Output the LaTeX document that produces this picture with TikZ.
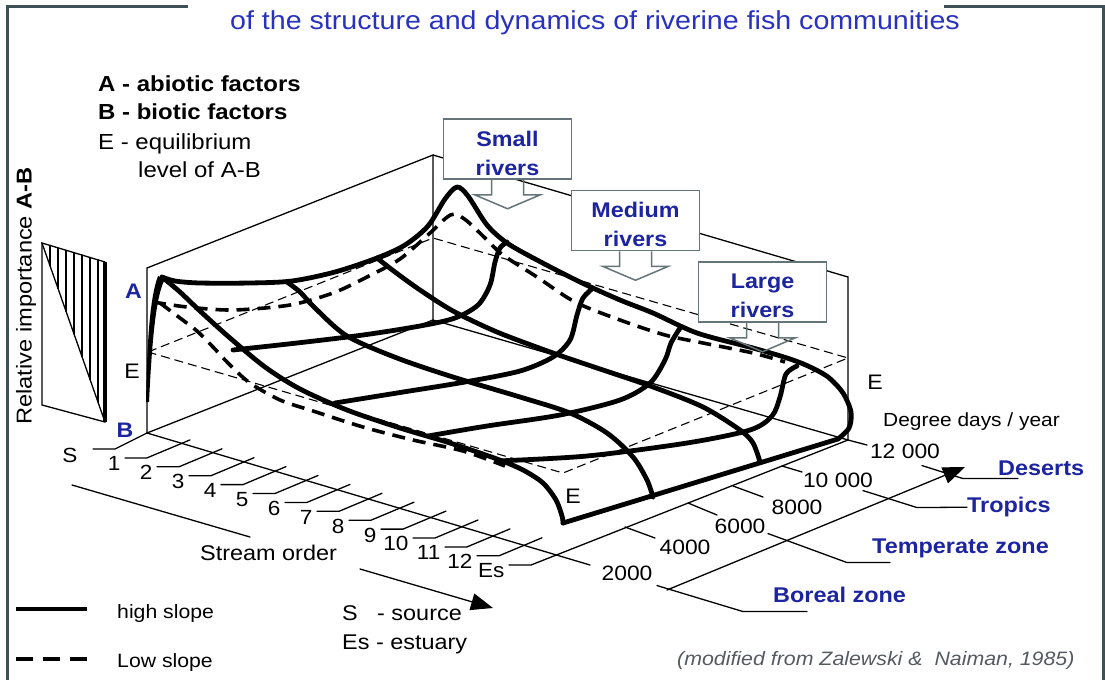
\documentclass[tikz,border=0pt]{standalone}
\usepackage{fontspec}
\setmainfont{Liberation Sans}[FakeStretch=1.1]
\usetikzlibrary{arrows.meta, positioning, calc}
\definecolor{riverblue}{RGB}{28,36,160}
\definecolor{titleblue}{RGB}{40,50,190}
\definecolor{framegray}{RGB}{62,80,86}
\definecolor{boxgray}{RGB}{100,116,120}
\definecolor{notegray}{RGB}{84,90,96}
\tikzset{
  thinln/.style={line width=1.3pt, line cap=round},
  highslope/.style={line width=4.8pt, line cap=round, line join=round},
  lowslope/.style={line width=3.6pt, dash pattern=on 13pt off 8pt},
  eplane/.style={line width=1.1pt, dash pattern=on 9pt off 5pt},
  lbl/.style={inner sep=0pt, font=\fontsize{#1}{#1}\selectfont},
  lbl/.default=20.5,
  keytxt/.style={inner sep=0pt, anchor=base west, font=\fontsize{21.8}{26}\selectfont},
  zonelbl/.style={inner sep=0pt, anchor=base west, text=riverblue, font=\fontsize{21.3}{24}\selectfont\bfseries},
  rivbox/.style={draw=boxgray, line width=1.5pt, fill=white, minimum width=128pt,
                 minimum height=60pt, inner sep=0pt},
  rivtext/.style={align=center, text=riverblue, inner sep=0pt, font=\fontsize{21.2}{29}\selectfont\bfseries},
  rivarrow/.style={draw=boxgray, line width=1.5pt, line join=miter},
  bigarrow/.style={thinln, -{Triangle[length=22pt,width=17pt]}}
}
\begin{document}
\begin{tikzpicture}[x=1pt, y=-1pt]
  \useasboundingbox (0,0) rectangle (1105,680);

  % Frame and title
  \draw[framegray, line width=3pt] (188,6) -- (7,6) -- (7,680);
  \draw[framegray, line width=3pt] (944,6) -- (1103,6) -- (1103,680);
  \node[anchor=base west, inner sep=0pt, text=titleblue, font=\fontsize{26}{30}\selectfont] (title)
    at (230,29) {of the structure and dynamics of riverine fish communities};

  % Key
  \node[keytxt] (keyA) at (98,91) {\textbf{A - abiotic factors}};
  \node[keytxt] (keyB) at (98,119) {\textbf{B - biotic factors}};
  \node[keytxt] (keyE) at (98,149) {E - equilibrium};
  \node[keytxt] (keyE2) at (138,177) {level of A-B};
  \node[rotate=90, inner sep=0pt, font=\fontsize{21.5}{24}\selectfont] (yaxis)
    at (26,296) {Relative importance \textbf{A-B}};

  % A-B share box
  \draw[thinln] (105,262) -- (42,243) -- (42,405) -- (105,422);
  \draw[thinln] (42,243) -- (105,422);
  \draw[line width=3.5pt] (105,262) -- (105,422);
  \foreach \x in {50,58,...,98}
    \draw[thinln] (\x,{243+(\x-42)*19/63}) -- (\x,{243+(\x-42)*179/63});

  % Walls and floor
  \coordinate (O) at (147,433);
  \coordinate (LT) at (147,268);
  \coordinate (BT) at (433,155);
  \coordinate (BB) at (433,320);
  \coordinate (RT) at (848,277);
  \coordinate (RB) at (848,440);
  \draw[thinln] (O) -- (LT) -- (BT) -- (BB) -- cycle;
  \draw[thinln] (BT) -- (RT) -- (RB) -- (BB);

  % Equilibrium plane
  \draw[eplane] (148,352) -- (433,238) -- (848,358) -- (563,473) -- cycle;

  % Low slope surface
  \draw[lowslope] plot[smooth] coordinates {(153,302) (187,307) (233,310) (290,305) (333,293)
    (367,277) (400,259) (430,233) (446,218) (455,214) (467,221) (485,238) (503,255) (537,277)
    (575,302) (620,320) (665,335) (703,343) (753,353) (785,362)};
  \draw[lowslope] plot[smooth] coordinates {(160,303) (180,318) (197,331) (213,347) (230,365)
    (250,383) (280,400) (313,411) (363,427) (413,440) (463,451) (505,466)};

  % High slope surface
  \fill (146,402) .. controls (147,350) and (149,300) .. (158,276) -- (165,279)
    .. controls (156,295) and (152,340) .. (149,402) -- cycle;
  \draw[highslope] plot[smooth] coordinates {(162,277) (175,281) (200,283) (250,283) (292,281)
    (335,272) (377,258) (405,245) (428,226) (445,199) (457,187) (468,196) (487,225) (507,243)
    (537,260) (580,282) (620,300) (653,313) (697,333) (753,348) (787,358) (808,366) (828,377)
    (843,393) (851,412) (849,428) (838,439)} -- (563,523);
  \draw[highslope] plot[smooth] coordinates {(162,277) (180,292) (200,311) (230,338) (265,367)
    (300,389) (347,410) (400,428) (450,443) (497,459) (523,470) (543,483) (556,500) (562,516)
    (563,523)};
  % along the stream
  \draw[highslope] plot[smooth] coordinates {(287,282) (300,292) (315,308) (347,336) (397,358)
    (453,377) (520,397) (570,413) (607,433) (633,457) (647,480) (653,497)};
  \draw[highslope] plot[smooth] coordinates {(377,258) (395,272) (420,290) (453,311) (497,332)
    (553,353) (600,369) (653,387) (703,407) (740,430) (753,443) (760,462)};
  % across the climate gradient
  \draw[highslope] plot[smooth] coordinates {(233,350) (297,343) (363,335) (420,326) (455,318)
    (478,305) (490,285) (495,262) (500,248) (507,242)};
  \draw[highslope] plot[smooth] coordinates {(335,403) (397,393) (465,382) (520,371) (553,357)
    (570,340) (577,315) (583,298) (593,288)};
  \draw[highslope] plot[smooth] coordinates {(428,436) (487,426) (560,415) (620,400) (650,383)
    (665,360) (671,343) (680,328)};
  \draw[highslope] plot[smooth] coordinates {(497,461) (587,456) (687,443) (750,430) (772,416)
    (780,397) (786,374) (797,366)};

  % A, B, E marks
  \node[anchor=base, inner sep=0pt, text=riverblue, font=\fontsize{21}{24}\selectfont\bfseries] (markA) at (133.5,298) {A};
  \node[anchor=base, inner sep=0pt, text=riverblue, font=\fontsize{21}{24}\selectfont\bfseries] (markB) at (125,437) {B};
  \node[anchor=base, lbl=21] (markEl) at (132,378) {E};
  \node[anchor=base, lbl=21] (markEr) at (875,389.5) {E};
  \node[anchor=base, lbl=21] (markEf) at (573,503) {E};

  % Stream order axis
  \coordinate (SO) at (590,565);
  \draw[thinln] (O) -- (SO);
  \draw[thinln] (93,449) -- ++(22,0) -- (O);
  \node[lbl] (tS) at (70,455) {S};
  \foreach \k in {1,...,12}
    \draw[thinln] ({93+32*\k},{449+8.9*\k}) node[lbl, anchor=north east, xshift=-4pt, yshift=2pt] (t\k) {\k}
      -- ++(22,0) -- ++(43,-18);
  \draw[thinln] (509,565) node[lbl, anchor=north east, xshift=-4pt, yshift=2pt] (tEs) {Es}
    -- (531,565) -- (RB);
  \node[anchor=base west, lbl=21.3] (sorder) at (200,560.5) {Stream order};
  \draw[thinln] (72,485) -- (250,537);
  \draw[bigarrow] (360,569) -- (493,608);

  % Degree days axis
  \draw[thinln] (625,527) -- ++(30,11);
  \draw[thinln] (688,503) -- ++(29,12);
  \draw[thinln] (733,486) -- ++(30,11);
  \draw[thinln] (782,466) -- ++(20,6);
  \draw[thinln] (RB) -- ++(19,5);
  \node[lbl=20.8] (d2) at (627,573) {2000};
  \node[lbl=20.8] (d4) at (685,547) {4000};
  \node[lbl=20.8] (d6) at (740,526) {6000};
  \node[lbl=20.8] (d8) at (797,507) {8000};
  \node[lbl=20.8] (d10) at (838,480) {10 000};
  \node[lbl=20.8] (d12) at (905,451) {12 000};
  \node[anchor=base west, lbl=19] (ddays) at (883,426.7) {Degree days / year};

  % Climate zones
  \draw[bigarrow] (667,590) -- (965,467);
  \node[zonelbl] (deserts) at (998,475) {Deserts};
  \node[zonelbl] (tropics) at (967,512.7) {Tropics};
  \node[zonelbl] (temperate) at (872,553) {Temperate zone};
  \node[zonelbl] (boreal) at (773,602.7) {Boreal zone};
  \draw[thinln] ($(d12.south)+(17,7)$) -- ++(41,13) -- ++(55,0);
  \draw[thinln] ($(d10.south)+(25,3)$) -- ++(54,17) -- (tropics.west);
  \draw[thinln] ($(d6.south)+(28,0)$) -- ++(79,29) -- ++(43,0);
  \draw[thinln] ($(d2.south)+(30,5)$) -- ++(86,26) -- ++(64,0);

  % Legend
  \draw[highslope, line cap=butt] (16,609) -- (87,609);
  \draw[line width=4.8pt, dash pattern=on 17pt off 10pt] (16,659) -- (87,659);
  \node[anchor=base west, lbl=19.3] (lhigh) at (117,618.5) {high slope};
  \node[anchor=base west, lbl=19.3] (llow) at (117,667) {Low slope};
  \node[anchor=base west, lbl=21.3] (srcS) at (342,620) {S};
  \node[anchor=base west, lbl=21.3] (srcD) at (377,620) {- source};
  \node[anchor=base west, lbl=21.3] (estS) at (342,649) {Es - estuary};
  \node[anchor=base west, inner sep=0pt, text=notegray, font=\fontsize{19.4}{22}\selectfont\itshape] (source)
    at (677,665) {(modified from Zalewski \&\ \ Naiman, 1985)};

  % River size boxes
  \node[rivbox] (small) at (507.5,149) {};
  \node[rivbox] (medium) at (635.5,220.5) {};
  \node[rivbox] (large) at (762.5,292) {};
  \node[rivtext] (smalltxt) at ($(small)+(0,4)$) {Small\\rivers};
  \node[rivtext] (mediumtxt) at ($(medium)+(0,4)$) {Medium\\rivers};
  \node[rivtext] (largetxt) at ($(large)+(0,4)$) {Large\\rivers};
  \foreach \b in {small,medium,large}
    \draw[rivarrow] ($(\b.south)+(-16,0)$) -- ++(0,15) -- ++(-17,0) -- ++(33,14)
      -- ++(33,-14) -- ++(-17,0) -- ++(0,-15);
\end{tikzpicture}
\end{document}
